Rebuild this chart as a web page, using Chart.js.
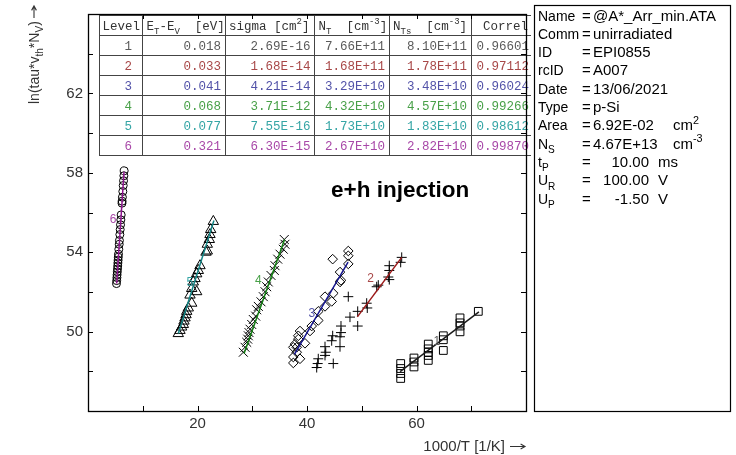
<!DOCTYPE html>
<html>
<head>
<meta charset="utf-8">
<script src="https://cdn.jsdelivr.net/npm/chart.js@4.4.1/dist/chart.umd.min.js"></script>
<style>
  html, body { margin: 0; padding: 0; background: #fff; }
  canvas { display: block; }
</style>
</head>
<body>
<canvas id="arrhenius" width="736" height="455"></canvas>
<script>
// Arrhenius plot of six DLTS levels (e+h injection) with fit table and run info

const xMin = 0, xMax = 80, xStep = 10;
const yMin = 46, yMax = 66, yStep = 2;
const xTickLabels = [20, 40, 60];
const yTickLabels = [50, 54, 58, 62];

// measured points, 1000/T and ln(tau*vth*Nv)
const lvl1X = [71.29, 67.95, 67.95, 67.95, 67.95, 64.90, 64.90, 64.90, 62.15, 62.15, 62.15, 62.15, 62.15, 59.54, 59.54, 59.54, 57.11, 57.11, 57.11, 57.11];
const lvl1Y = [51.02, 50.69, 50.44, 50.28, 49.99, 49.79, 49.59, 49.05, 49.37, 49.13, 48.96, 48.80, 48.55, 48.67, 48.47, 48.22, 48.39, 48.14, 47.89, 47.64];

const lvl2X = [57.30, 57.11, 55.03, 55.03, 54.85, 55.03, 53.02, 52.73, 50.90, 51.01, 49.26, 49.26,
               47.54, 47.85, 46.21, 46.21, 44.69, 46.03, 44.51, 46.03, 43.29, 43.42, 43.29, 44.80, 42.06, 41.95, 41.77];
const lvl2Y = [53.74, 53.49, 53.32, 53.08, 52.75, 52.62, 52.34, 52.26, 51.43, 51.19, 51.02, 50.28,
               51.76, 50.73, 50.28, 49.95, 49.79, 49.74, 49.54, 49.24, 49.24, 48.96, 48.80, 48.39, 48.63, 48.39, 48.19];

const lvl3X = [47.54, 47.54, 47.54, 44.69, 46.03, 46.21, 46.03, 44.80, 43.29, 44.51, 43.29, 42.06, 42.06, 40.86, 40.55, 38.72, 38.41, 38.41, 39.63, 37.81, 37.50, 38.12, 38.12, 37.50, 38.72, 37.50];
const lvl3Y = [54.06, 53.82, 53.41, 53.65, 53.00, 52.58, 52.50, 51.93, 51.76, 51.52, 51.27, 51.02, 50.56, 50.28, 50.03, 50.03, 49.79, 49.62, 49.41, 49.37, 49.21, 49.21, 48.96, 48.72, 48.63, 48.42];

const lvl4X = [35.85, 35.98, 35.67, 35.07, 34.65, 34.16, 34.03, 33.42, 32.93, 32.64, 32.33, 32.02, 31.60, 31.11, 30.81, 30.63, 30.19, 29.90, 29.59, 29.41, 29.28, 29.17, 28.99, 28.68, 28.37];
const lvl4Y = [54.64, 54.40, 54.15, 53.90, 53.65, 53.32, 53.08, 52.83, 52.50, 52.26, 52.01, 51.76, 51.50, 51.27, 51.10, 50.78, 50.61, 50.36, 50.12, 49.95, 49.79, 49.62, 49.46, 49.21, 48.96];

const lvl5X = [22.89, 22.41, 22.28, 22.16, 21.79, 21.79, 21.55, 20.46, 20.15, 19.85, 19.54, 19.23, 18.94, 19.85, 18.63, 18.94, 18.32, 18.03, 17.90, 17.72, 17.53, 17.41, 17.11, 16.80, 16.49];
const lvl5Y = [55.55, 55.14, 54.89, 54.64, 54.40, 54.06, 54.00, 53.32, 53.08, 52.91, 52.67, 52.50, 52.17, 52.01, 51.84, 51.43, 51.19, 51.02, 50.85, 50.69, 50.53, 50.36, 50.23, 50.06, 49.90];

const lvl6X = [6.61, 6.55, 6.49, 6.43, 6.36, 6.28, 6.23, 6.21, 6.06, 6.00, 5.94, 5.88, 5.82, 5.74, 5.70, 5.63, 5.57, 5.53, 5.50, 5.46, 5.43, 5.39, 5.35, 5.31, 5.28, 5.24, 5.20];
const lvl6Y = [58.10, 57.85, 57.60, 57.36, 57.06, 56.77, 56.57, 56.47, 55.88, 55.63, 55.38, 55.14, 54.89, 54.59, 54.40, 54.15, 53.90, 53.75, 53.60, 53.46, 53.31, 53.16, 53.01, 52.86, 52.72, 52.57, 52.42];

// end points of the Arrhenius fits, level 1..6
const fitX = [[57.0, 71.4], [49.2, 57.3], [37.7, 47.5], [28.5, 35.9], [16.5, 23.0], [5.24, 6.58]];
const fitY = [[47.98, 50.99], [50.74, 53.74], [48.85, 53.5], [48.9, 54.64], [49.9, 55.6], [52.42, 58.05]];

// fit result table
const tableLevel = ['1', '2', '3', '4', '5', '6'];
const tableEtEv = ['0.018', '0.033', '0.041', '0.068', '0.077', '0.321'];
const tableSigma = ['2.69E-16', '1.68E-14', '4.21E-14', '3.71E-12', '7.55E-16', '6.30E-15'];
const tableNT = ['7.66E+11', '1.68E+11', '3.29E+10', '4.32E+10', '1.73E+10', '2.67E+10'];
const tableNTs = ['8.10E+11', '1.78E+11', '3.48E+10', '4.57E+10', '1.83E+10', '2.82E+10'];
const tableCorrel = ['0.96601', '0.97112', '0.96024', '0.99266', '0.98612', '0.99870'];

// measurement info
const infoName = '@A*_Arr_min.ATA';
const infoComm = 'unirradiated';
const infoId = 'EPI0855';
const infoRcId = 'A007';
const infoDate = '13/06/2021';
const infoType = 'p-Si';
const infoArea = '6.92E-02';
const infoNs = '4.67E+13';
const infoTp = '10.00';
const infoUr = '100.00';
const infoUp = '-1.50';

const lineColors = ['#1a1a1a', '#9c1a1a', '#14148e', '#138013', '#138484', '#8e148e'];
const textColors = ['#5a5a5a', '#a84848', '#5252a8', '#48a048', '#35a5a5', '#a848a8'];
const markers = [
  { style: 'rect', r: 5.5 },
  { style: 'cross', r: 5 },
  { style: 'rectRot', r: 4.8 },
  { style: 'crossRot', r: 6.3 },
  { style: 'triangle', r: 6 },
  { style: 'circle', r: 4 }
];
// where the level numbers sit next to their fits (data coords)
const levelTagAt = [[63.7, 49.55], [51.6, 52.75], [40.9, 50.95], [31.1, 52.6], [18.6, 52.5], [4.6, 55.7]];

const SANS = '"Liberation Sans", Arial, sans-serif';
const MONO = '"Liberation Mono", "Courier New", monospace';

const pointsX = [lvl1X, lvl2X, lvl3X, lvl4X, lvl5X, lvl6X];
const pointsY = [lvl1Y, lvl2Y, lvl3Y, lvl4Y, lvl5Y, lvl6Y];
const zip = (xs, ys) => xs.map((x, i) => ({ x, y: ys[i] }));

const datasets = [];
pointsX.forEach((xs, i) => {
  datasets.push({
    label: 'Level ' + (i + 1),
    data: zip(xs, pointsY[i]),
    showLine: false,
    pointStyle: markers[i].style,
    pointRadius: markers[i].r,
    pointBorderColor: '#000',
    pointBackgroundColor: 'rgba(0,0,0,0)',
    pointBorderWidth: 1,
    order: 2
  });
  datasets.push({
    label: 'Fit ' + (i + 1),
    data: zip(fitX[i], fitY[i]),
    showLine: true,
    borderColor: lineColors[i],
    borderWidth: 1.5,
    pointRadius: 0,
    order: 1
  });
});

// text made of plain, sub and sup pieces
function drawParts(ctx, parts, x, y, opts) {
  const size = opts.size, family = opts.family, weight = opts.weight || '';
  const align = opts.align || 'left';
  const small = size * 0.72;
  const items = parts.map(p => (typeof p === 'string' ? { t: p } : p));
  const fontFor = p => `${weight} ${p.sub || p.sup ? small : size}px ${family}`;
  let total = 0;
  const widths = items.map(p => {
    ctx.font = fontFor(p);
    const w = ctx.measureText(p.t).width;
    total += w;
    return w;
  });
  let cx = align === 'right' ? x - total : align === 'center' ? x - total / 2 : x;
  ctx.save();
  ctx.textAlign = 'left';
  ctx.textBaseline = 'alphabetic';
  items.forEach((p, i) => {
    ctx.font = fontFor(p);
    const dy = p.sub ? size * 0.32 : p.sup ? -size * 0.42 : 0;
    ctx.fillText(p.t, cx, y + dy);
    cx += widths[i];
  });
  ctx.restore();
}

// thin arrow with an open head, from (x0,y0) to (x1,y1)
function arrow(ctx, x0, y0, x1, y1) {
  const ang = Math.atan2(y1 - y0, x1 - x0), h = 5;
  ctx.beginPath();
  ctx.moveTo(x0, y0);
  ctx.lineTo(x1, y1);
  ctx.moveTo(x1 - h * Math.cos(ang - 0.5), y1 - h * Math.sin(ang - 0.5));
  ctx.lineTo(x1, y1);
  ctx.lineTo(x1 - h * Math.cos(ang + 0.5), y1 - h * Math.sin(ang + 0.5));
  ctx.stroke();
}

function drawFrameAndTicks(chart) {
  const { ctx, chartArea: a, scales } = chart;
  const tl = 5;
  ctx.save();
  ctx.strokeStyle = '#000';
  ctx.lineWidth = 1;
  ctx.beginPath();
  scales.x.ticks.forEach(t => {
    if (t.value <= xMin || t.value >= xMax) return;
    const px = Math.round(scales.x.getPixelForValue(t.value)) + 0.5;
    ctx.moveTo(px, a.bottom); ctx.lineTo(px, a.bottom - tl);
    ctx.moveTo(px, a.top); ctx.lineTo(px, a.top + tl);
  });
  scales.y.ticks.forEach(t => {
    if (t.value <= yMin || t.value >= yMax) return;
    const py = Math.round(scales.y.getPixelForValue(t.value)) + 0.5;
    ctx.moveTo(a.left, py); ctx.lineTo(a.left + tl, py);
    ctx.moveTo(a.right, py); ctx.lineTo(a.right - tl, py);
  });
  ctx.stroke();
  ctx.lineWidth = 1.3;
  ctx.strokeRect(a.left + 0.5, a.top + 0.5, a.right - a.left, a.bottom - a.top);
  ctx.restore();
}

function drawTable(ctx) {
  const cols = [99, 142, 225, 314, 389, 471, 545];
  const top = 15, rowH = 20, rows = tableLevel.length + 1;
  ctx.save();
  ctx.beginPath();
  ctx.rect(0, 0, 531, 455);
  ctx.clip();
  ctx.fillStyle = '#fff';
  ctx.fillRect(cols[0], top, cols[cols.length - 1] - cols[0], rowH * rows);
  ctx.strokeStyle = '#444';
  ctx.lineWidth = 1;
  ctx.beginPath();
  for (let r = 0; r <= rows; r++) {
    ctx.moveTo(cols[0], top + r * rowH + 0.5);
    ctx.lineTo(cols[cols.length - 1], top + r * rowH + 0.5);
  }
  cols.forEach(c => { ctx.moveTo(c + 0.5, top); ctx.lineTo(c + 0.5, top + rows * rowH); });
  ctx.stroke();

  const fs = 12.5;
  const opt = { size: fs, family: MONO };
  ctx.fillStyle = '#333';
  const hy = top + 14.5;
  drawParts(ctx, ['Level'], cols[0] + 3.5, hy, opt);
  drawParts(ctx, ['E', { t: 'T', sub: true }, '-E', { t: 'V', sub: true }, '  [eV]'], cols[1] + 4.5, hy, opt);
  drawParts(ctx, ['sigma [cm', { t: '2', sup: true }, ']'], cols[2] + 4, hy, opt);
  drawParts(ctx, ['N', { t: 'T', sub: true }, '  [cm', { t: '-3', sup: true }, ']'], cols[3] + 4.5, hy, opt);
  drawParts(ctx, ['N', { t: 'Ts', sub: true }, '  [cm', { t: '-3', sup: true }, ']'], cols[4] + 4, hy, opt);
  drawParts(ctx, ['Correl'], cols[5] + 12, hy, opt);

  tableLevel.forEach((lv, i) => {
    const y = top + (i + 1) * rowH + 14.5;
    ctx.fillStyle = textColors[i];
    drawParts(ctx, [lv], cols[1] - 10, y, { ...opt, align: 'right' });
    drawParts(ctx, [tableEtEv[i]], cols[2] - 4, y, { ...opt, align: 'right' });
    drawParts(ctx, [tableSigma[i]], cols[3] - 3.5, y, { ...opt, align: 'right' });
    drawParts(ctx, [tableNT[i]], cols[4] - 4, y, { ...opt, align: 'right' });
    drawParts(ctx, [tableNTs[i]], cols[5] - 4, y, { ...opt, align: 'right' });
    drawParts(ctx, [tableCorrel[i]], cols[5] + 5.5, y, opt);
  });
  ctx.restore();
}

function drawInfo(ctx) {
  ctx.save();
  ctx.fillStyle = '#fff';
  ctx.fillRect(534, 5, 196, 406);
  ctx.strokeStyle = '#000';
  ctx.lineWidth = 1.2;
  ctx.strokeRect(534.5, 5.5, 196, 406);
  ctx.fillStyle = '#000';
  const labelOpt = { size: 14, family: SANS };
  const opt = { size: 15, family: SANS };
  const lx = 538, ex = 582, vx = 593, step = 18.3, y0 = 20.5;
  const rows = [
    [['Name'], [infoName]],
    [['Comm'], [infoComm]],
    [['ID'], [infoId]],
    [['rcID'], [infoRcId]],
    [['Date'], [infoDate]],
    [['Type'], [infoType]],
    [['Area'], [infoArea]],
    [['N', { t: 'S', sub: true }], [infoNs]]
  ];
  rows.forEach((r, i) => {
    const y = y0 + i * step;
    drawParts(ctx, r[0], lx, y, labelOpt);
    drawParts(ctx, ['='], ex, y, opt);
    drawParts(ctx, r[1], vx, y, opt);
  });
  drawParts(ctx, ['cm', { t: '2', sup: true }], 673, y0 + 6 * step, opt);
  drawParts(ctx, ['cm', { t: '-3', sup: true }], 673, y0 + 7 * step, opt);
  const units = [
    [['t', { t: 'P', sub: true }], infoTp, 'ms'],
    [['U', { t: 'R', sub: true }], infoUr, 'V'],
    [['U', { t: 'P', sub: true }], infoUp, 'V']
  ];
  units.forEach((u, i) => {
    const y = y0 + (8 + i) * step;
    drawParts(ctx, u[0], lx, y, labelOpt);
    drawParts(ctx, ['='], ex, y, opt);
    drawParts(ctx, [u[1]], 649, y, { ...opt, align: 'right' });
    drawParts(ctx, [u[2]], 658, y, opt);
  });
  ctx.restore();
}

const decor = {
  id: 'decor',
  afterDraw(chart) {
    const { ctx, scales } = chart;
    // level numbers beside each fit
    ctx.save();
    levelTagAt.forEach((p, i) => {
      ctx.fillStyle = textColors[i];
      drawParts(ctx, [String(i + 1)], scales.x.getPixelForValue(p[0]), scales.y.getPixelForValue(p[1]) + 4.5,
        { size: 12, family: SANS, align: 'center' });
    });
    ctx.restore();

    drawTable(ctx);
    drawFrameAndTicks(chart);

    ctx.save();
    ctx.fillStyle = '#000';
    drawParts(ctx, ['e+h injection'], 331, 197, { size: 22.5, family: SANS, weight: 'bold' });
    ctx.fillStyle = '#333';
    ctx.strokeStyle = '#333';
    ctx.lineWidth = 1.1;
    drawParts(ctx, ['1000/T [1/K]'], 505, 451, { size: 15, family: SANS, align: 'right' });
    arrow(ctx, 510, 446.5, 525, 446.5);
    ctx.translate(39, 104);
    ctx.rotate(-Math.PI / 2);
    drawParts(ctx, ['ln(tau*v', { t: 'th', sub: true }, '*N', { t: 'V', sub: true }, ')'], 0, 0,
      { size: 14, family: SANS });
    arrow(ctx, 86, -5, 98, -5);
    ctx.restore();

    drawInfo(ctx);
  }
};

const tickFont = { family: SANS, size: 15 };

new Chart(document.getElementById('arrhenius').getContext('2d'), {
  type: 'scatter',
  data: { datasets },
  options: {
    responsive: false,
    animation: false,
    layout: { padding: { left: 0, right: 210, top: 5, bottom: 0 } },
    plugins: { legend: { display: false }, tooltip: { enabled: false } },
    scales: {
      x: {
        type: 'linear', min: xMin, max: xMax,
        afterFit: s => { s.height = 44; },
        grid: { display: false, drawTicks: false },
        border: { display: false },
        ticks: {
          stepSize: xStep, autoSkip: false, maxRotation: 0, padding: 4,
          font: tickFont, color: '#333',
          callback: v => (xTickLabels.includes(v) ? String(v) : '')
        }
      },
      y: {
        type: 'linear', min: yMin, max: yMax,
        afterFit: s => { s.width = 88; },
        grid: { display: false, drawTicks: false },
        border: { display: false },
        ticks: {
          stepSize: yStep, autoSkip: false, padding: 5,
          font: tickFont, color: '#333',
          callback: v => (yTickLabels.includes(v) ? String(v) : '')
        }
      }
    }
  },
  plugins: [decor]
});
</script>
</body>
</html>
